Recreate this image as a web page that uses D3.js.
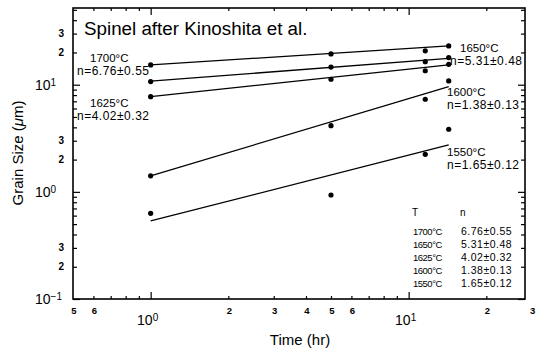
<!DOCTYPE html>
<html>
<head>
<meta charset="utf-8">
<script src="https://cdn.jsdelivr.net/npm/d3@7"></script>
<style>
    body { margin: 0; background: #fff; }
    svg { display: block; }
    text { font-family: "Liberation Sans", Arial, sans-serif; fill: #000; }
</style>
</head>
<body>
<div id="chart"></div>
<script>
// measured points (time in hr, grain size in um)
const times = [1, 5, 11.6, 14.3];
const grain1700 = [15.3, 19.4, 20.7, 23.0];
const grain1650 = [10.7, 14.6, 16.4, 17.9];
const grain1625 = [7.74, 11.25, 13.5, 15.5];
const grain1600 = [1.41, 4.15, 7.32, 10.85];
const grain1550 = [0.63, 0.935, 2.24, 3.84];

// fitted lines, value at start and end time
const fitTimes = [1, 14.3];
const fitStart = [15.3, 10.8, 7.74, 1.41, 0.535];
const fitEnd = [23.0, 17.6, 15.3, 9.6, 2.74];

const temps = ["1700°C", "1650°C", "1625°C", "1600°C", "1550°C"];
const nValues = ["6.76±0.55", "5.31±0.48", "4.02±0.32", "1.38±0.13", "1.65±0.12"];

// axis ticks and labels
const xMajorTicks = [1, 10];
const xMajorExp = ["0", "1"];
const xMinorTicks = [0.6, 0.7, 0.8, 0.9, 2, 3, 4, 5, 6, 7, 8, 9, 20];
const xMinorLabelVals = [0.5, 0.6, 2, 3, 4, 5, 6, 20, 30];
const xMinorLabels = ["5", "6", "2", "3", "4", "5", "6", "2", "3"];

const yMajorTicks = [0.1, 1, 10];
const yMajorExp = ["\u22121", "0", "1"];
const yMinorTicks = [0.2, 0.3, 0.4, 0.5, 0.6, 0.7, 0.8, 0.9, 2, 3, 4, 5, 6, 7, 8, 9, 20, 30, 40, 50];
const yMinorLabelVals = [0.2, 0.3, 2, 3, 20, 30];
const yMinorLabels = ["2", "3", "2", "3", "2", "3"];

const series = [grain1700, grain1650, grain1625, grain1600, grain1550];

const svg = d3.select("#chart").append("svg")
    .attr("width", 536)
    .attr("height", 349);

const plotLeft = 73, plotRight = 525, plotTop = 8, plotBottom = 299;

const x = d3.scaleLog().domain([0.5, 28.25]).range([plotLeft, plotRight]);
const y = d3.scaleLog().domain([0.1, 52]).range([plotBottom, plotTop]);

// frame
svg.append("rect")
    .attr("x", plotLeft).attr("y", plotTop)
    .attr("width", plotRight - plotLeft).attr("height", plotBottom - plotTop)
    .attr("fill", "none").attr("stroke", "#000").attr("stroke-width", 1.6);

function tickAxis(axis, transform, values, size) {
    svg.append("g")
        .attr("transform", transform)
        .call(axis.tickValues(values).tickSize(-size).tickFormat(""))
        .call(g => g.select(".domain").remove())
        .call(g => g.selectAll("line").attr("stroke", "#000").attr("stroke-width", 1.2));
}
tickAxis(d3.axisBottom(x), `translate(0,${plotBottom})`, xMajorTicks, 7);
tickAxis(d3.axisBottom(x), `translate(0,${plotBottom})`, xMinorTicks, 3);
tickAxis(d3.axisTop(x), `translate(0,${plotTop})`, xMajorTicks, 7);
tickAxis(d3.axisTop(x), `translate(0,${plotTop})`, xMinorTicks, 3);
tickAxis(d3.axisLeft(y), `translate(${plotLeft},0)`, yMajorTicks, 7);
tickAxis(d3.axisLeft(y), `translate(${plotLeft},0)`, yMinorTicks, 4);
tickAxis(d3.axisRight(y), `translate(${plotRight},0)`, yMajorTicks, 7);
tickAxis(d3.axisRight(y), `translate(${plotRight},0)`, yMinorTicks, 4);

// tick labels
function powLabel(px, py, exp, anchor) {
    const t = svg.append("text")
        .attr("x", px).attr("y", py)
        .attr("text-anchor", anchor)
        .style("font-size", "14px");
    t.append("tspan").text("10");
    t.append("tspan").attr("dy", -4).style("font-size", "10px").text(exp);
}
xMajorTicks.forEach((v, i) => powLabel(x(v) - 3, 325, xMajorExp[i], "middle"));
yMajorTicks.forEach((v, i) => powLabel(35, y(v) + 5, yMajorExp[i], "start"));

svg.selectAll(".xminor")
    .data(xMinorLabelVals)
    .enter().append("text")
    .attr("x", d => x(d) + 1)
    .attr("y", 314)
    .attr("text-anchor", "middle")
    .style("font-size", "9.5px").style("font-weight", "bold")
    .text((d, i) => xMinorLabels[i]);

svg.selectAll(".yminor")
    .data(yMinorLabelVals)
    .enter().append("text")
    .attr("x", 64)
    .attr("y", d => y(d) + 3.5)
    .attr("text-anchor", "end")
    .style("font-size", "10px").style("font-weight", "bold")
    .text((d, i) => yMinorLabels[i]);

// axis titles
svg.append("text")
    .attr("x", 300).attr("y", 345)
    .attr("text-anchor", "middle")
    .style("font-size", "15px")
    .text("Time (hr)");

const yt = svg.append("text")
    .attr("transform", "translate(23,153) rotate(-90)")
    .attr("text-anchor", "middle")
    .style("font-size", "15px");
yt.append("tspan").text("Grain Size (");
yt.append("tspan").style("font-style", "italic").text("\u03bc");
yt.append("tspan").text("m)");

svg.append("text")
    .attr("x", 84).attr("y", 35)
    .style("font-size", "18.8px")
    .text("Spinel after Kinoshita et al.");

// fit lines
svg.selectAll(".fit")
    .data(fitStart)
    .enter().append("line")
    .attr("x1", x(fitTimes[0]))
    .attr("y1", d => y(d))
    .attr("x2", x(fitTimes[1]))
    .attr("y2", (d, i) => y(fitEnd[i]))
    .attr("stroke", "#000")
    .attr("stroke-width", 1.3);

// points
series.forEach(s => {
    svg.selectAll(null)
        .data(s)
        .enter().append("circle")
        .attr("cx", (d, i) => x(times[i]))
        .attr("cy", d => y(d))
        .attr("r", 2.6)
        .attr("fill", "#000");
});

// line annotations
function annot(px, py, temp, n, dx, gap) {
    svg.append("text").attr("x", px + dx).attr("y", py)
        .style("font-size", "11.5px").text(temp);
    svg.append("text").attr("x", px).attr("y", py + gap)
        .style("font-size", "12px").style("letter-spacing", "0.5px").text("n=" + n);
}
annot(77, 62, temps[0], nValues[0], 13, 13);
annot(77, 107, temps[2], nValues[2], 13, 13);
annot(450, 52, temps[1], nValues[1], 10, 13);
annot(447, 96, temps[3], nValues[3], 0, 13);
annot(447, 156, temps[4], nValues[4], 0, 13);

// summary table
svg.append("text").attr("x", 412).attr("y", 216).style("font-size", "10px").text("T");
svg.append("text").attr("x", 460).attr("y", 216).style("font-size", "10px").text("n");
temps.forEach((t, i) => {
    svg.append("text").attr("x", 413).attr("y", 235 + i * 13.1)
        .style("font-size", "9.5px").style("letter-spacing", "-0.5px").text(t);
    svg.append("text").attr("x", 461).attr("y", 235 + i * 13.1)
        .style("font-size", "10.5px").style("letter-spacing", "0.5px").text(nValues[i]);
});
</script>
</body>
</html>
